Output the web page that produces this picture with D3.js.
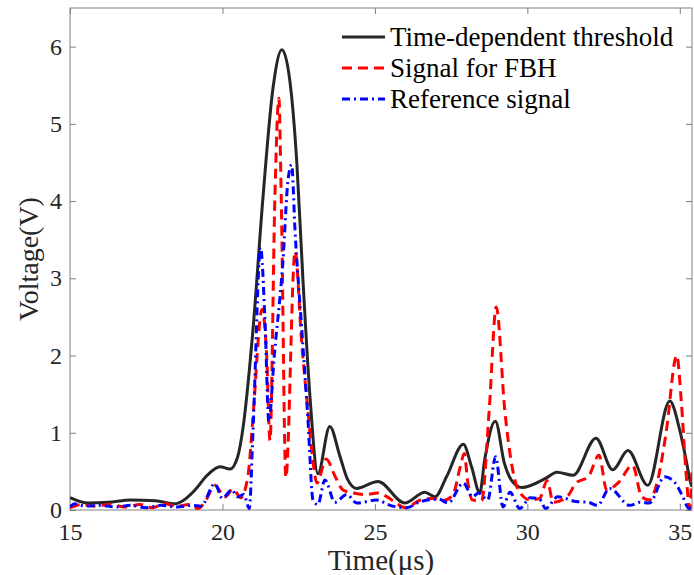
<!DOCTYPE html>
<html>
<head>
<meta charset="utf-8">
<script src="https://cdn.jsdelivr.net/npm/d3@7"></script>
<style>
  html, body { margin: 0; padding: 0; background: #fff; }
  svg { display: block; }
  text { font-family: "Liberation Serif", "Times New Roman", serif; }
</style>
</head>
<body>
<svg id="chart" width="694" height="575"></svg>
<script>
// ---- Data ----
const thresholdTime = [15, 15.6, 16.25, 17.0, 17.8, 18.45, 18.7, 19.1, 19.5, 19.92, 20.25, 20.5, 20.67, 21.0, 21.33, 21.66, 21.95, 22.21, 22.44, 22.64, 22.87, 23.13, 23.52, 23.85, 24.1, 24.4, 25.1, 25.98, 26.64, 26.97, 27.35, 27.9, 28.17, 28.44, 28.6, 28.95, 29.25, 29.47, 29.82, 30.6, 30.97, 31.5, 32.25, 32.8, 33.3, 33.95, 34.67, 35.0, 35.23, 35.33, 35.4];
const thresholdVolt = [0.16, 0.09, 0.10, 0.13, 0.12, 0.08, 0.12, 0.26, 0.45, 0.56, 0.53, 0.69, 1.05, 2.33, 4.05, 5.47, 5.96, 5.56, 4.49, 2.98, 1.47, 0.47, 1.08, 0.70, 0.40, 0.28, 0.37, 0.09, 0.23, 0.17, 0.43, 0.85, 0.56, 0.22, 0.65, 1.15, 0.60, 0.39, 0.29, 0.41, 0.49, 0.45, 0.93, 0.52, 0.77, 0.32, 1.41, 1.03, 0.60, 0.39, 0.30];

const fbhTime = [15, 15.4, 15.8, 16.3, 16.8, 17.3, 17.7, 18.1, 18.5, 18.9, 19.2, 19.45, 19.75, 20.08, 20.35, 20.6, 20.84, 21.0, 21.3, 21.45, 21.56, 21.72, 21.85, 21.93, 22.08, 22.38, 22.6, 22.8, 22.95, 23.1, 23.4, 23.7, 23.95, 24.3, 24.7, 25.1, 25.4, 25.7, 26.0, 26.5, 26.9, 27.2, 27.55, 27.8, 27.93, 28.05, 28.2, 28.5, 28.75, 28.98, 29.26, 29.5, 29.7, 30.1, 30.4, 30.65, 30.85, 31.3, 31.6, 32.0, 32.35, 32.6, 33.0, 33.45, 33.75, 34.0, 34.3, 34.55, 34.9, 35.05, 35.2, 35.33, 35.4];
const fbhVolt = [0.03, 0.07, 0.05, 0.07, 0.04, 0.07, 0.03, 0.08, 0.05, 0.07, 0.02, 0.12, 0.32, 0.17, 0.27, 0.16, 0.45, 1.2, 2.6, 2.0, 0.9, 4.05, 5.33, 4.0, 0.42, 3.35, 2.16, 1.3, 0.69, 0.35, 0.66, 0.43, 0.26, 0.22, 0.2, 0.22, 0.17, 0.09, 0.03, 0.13, 0.15, 0.12, 0.19, 0.56, 0.73, 0.35, 0.13, 0.12, 1.3, 2.63, 1.29, 0.56, 0.26, 0.13, 0.15, 0.38, 0.1, 0.17, 0.35, 0.43, 0.71, 0.26, 0.36, 0.58, 0.17, 0.13, 0.43, 1.0, 2.0, 1.4, 0.5, 0.02, 0.5];

const refTime = [15, 15.15, 15.5, 16.0, 16.5, 17.0, 17.5, 18.0, 18.5, 19.0, 19.3, 19.75, 20.0, 20.3, 20.5, 20.7, 20.88, 21.0, 21.25, 21.4, 21.52, 21.7, 21.98, 22.15, 22.27, 22.38, 22.61, 22.8, 22.97, 23.13, 23.36, 23.69, 24.08, 24.4, 25.06, 25.5, 26.04, 26.5, 27.1, 27.4, 27.9, 28.2, 28.4, 28.7, 28.96, 29.2, 29.43, 29.75, 30.1, 30.4, 30.6, 31.0, 31.6, 32.0, 32.3, 32.7, 33.36, 33.7, 34.0, 34.5, 34.85, 35.1, 35.3, 35.4];
const refVolt = [0.04, 0.08, 0.05, 0.06, 0.04, 0.06, 0.03, 0.06, 0.04, 0.06, 0.05, 0.34, 0.15, 0.26, 0.17, 0.2, 0.02, 1.0, 3.4, 2.4, 1.15, 2.0, 3.2, 4.27, 4.47, 3.62, 2.29, 1.2, 0.13, 0.07, 0.39, 0.1, 0.2, 0.09, 0.13, 0.06, 0.03, 0.11, 0.14, 0.09, 0.35, 0.17, 0.22, 0.13, 0.69, 0.04, 0.23, 0.02, 0.16, 0.14, 0.02, 0.17, 0.11, 0.1, 0.06, 0.28, 0.06, 0.1, 0.09, 0.43, 0.35, 0.17, 0.02, 0.05];

const xTicks = [15, 20, 25, 30, 35];
const yTicks = [0, 1, 2, 3, 4, 5, 6];
const seriesNames = ["Time-dependent threshold", "Signal for FBH", "Reference signal"];
const xLabel = "Time(\u03bcs)";
const yLabel = "Voltage(V)";

// ---- Layout ----
const L = 70, R = 692, T = 8, B = 510;
const svg = d3.select("#chart");
const x = d3.scaleLinear().domain([15, 35.4]).range([L, R]);
const y = d3.scaleLinear().domain([0, 6.5]).range([B, T]);

const styles = [
  { color: "#262626", dash: null, width: 3 },
  { color: "#ff0000", dash: "10,6", width: 3 },
  { color: "#0000ff", dash: "8,4,2,4", width: 3 }
];
const series = [
  thresholdTime.map((t, i) => [t, thresholdVolt[i]]),
  fbhTime.map((t, i) => [t, fbhVolt[i]]),
  refTime.map((t, i) => [t, refVolt[i]])
];

svg.append("defs").append("clipPath").attr("id", "clip")
  .append("rect").attr("x", L).attr("y", T).attr("width", R - L).attr("height", B - T);

const axisColor = "#808080";
const tickText = "#262626";

// Axes with inward ticks
const gx = svg.append("g").attr("transform", `translate(0,${B})`)
  .call(d3.axisBottom(x).tickValues(xTicks).tickSize(-6).tickPadding(13).tickFormat(d3.format("d")));
const gxTop = svg.append("g").attr("transform", `translate(0,${T})`)
  .call(d3.axisTop(x).tickValues(xTicks).tickSize(-6).tickFormat(""));
const gy = svg.append("g").attr("transform", `translate(${L},0)`)
  .call(d3.axisLeft(y).tickValues(yTicks).tickSize(-6).tickPadding(8).tickFormat(d3.format("d")));
const gyR = svg.append("g").attr("transform", `translate(${R},0)`)
  .call(d3.axisRight(y).tickValues(yTicks).tickSize(-6).tickFormat(""));

[gx, gxTop, gy, gyR].forEach(g => {
  g.select(".domain").remove();
  g.selectAll(".tick line").attr("stroke", axisColor).attr("stroke-width", 1);
  g.selectAll(".tick text").attr("fill", tickText)
    .style("font-family", "'Liberation Serif', serif").style("font-size", "24px");
});

svg.append("rect").attr("x", L).attr("y", T).attr("width", R - L).attr("height", B - T)
  .attr("fill", "none").attr("stroke", axisColor).attr("stroke-width", 1);

// Lines
const line = d3.line().x(d => x(d[0])).y(d => y(d[1])).curve(d3.curveMonotoneX);
const plot = svg.append("g").attr("clip-path", "url(#clip)");
series.forEach((s, i) => {
  plot.append("path").datum(s)
    .attr("fill", "none")
    .attr("stroke", styles[i].color)
    .attr("stroke-width", styles[i].width)
    .attr("stroke-dasharray", styles[i].dash)
    .attr("stroke-linejoin", "round")
    .attr("d", line);
});

// Axis labels
svg.append("text").attr("x", (L + R) / 2).attr("y", 570).attr("text-anchor", "middle")
  .attr("fill", tickText).style("font-size", "29px").text(xLabel);
svg.append("text").attr("transform", `translate(38,${(T + B) / 2}) rotate(-90)`)
  .attr("text-anchor", "middle").attr("fill", tickText).style("font-size", "28px").text(yLabel);

// Legend
const legY = [37, 68, 99];
const leg = svg.append("g");
seriesNames.forEach((name, i) => {
  leg.append("line").attr("x1", 342).attr("x2", 385).attr("y1", legY[i]).attr("y2", legY[i])
    .attr("stroke", styles[i].color).attr("stroke-width", styles[i].width)
    .attr("stroke-dasharray", styles[i].dash);
  leg.append("text").attr("x", 390).attr("y", legY[i]).attr("dy", "0.33em")
    .attr("fill", "#000").style("font-size", "27px").text(name);
});
</script>
</body>
</html>
